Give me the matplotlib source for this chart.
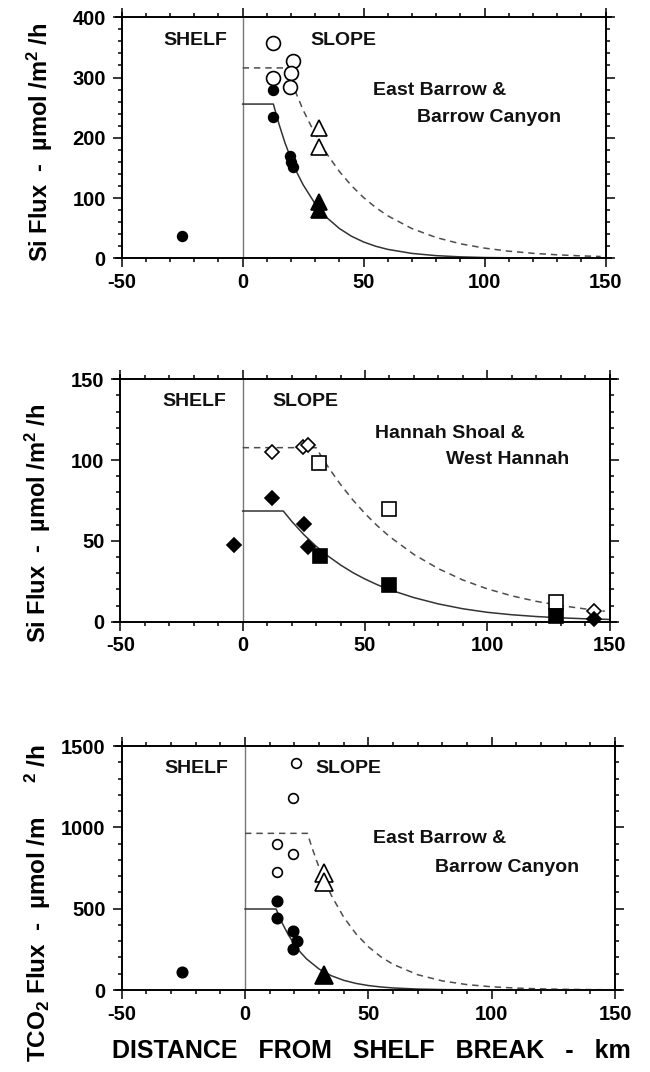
import matplotlib
matplotlib.use('Agg')
import matplotlib.pyplot as plt
from matplotlib.ticker import MultipleLocator

plt.rcParams['font.family'] = ['Liberation Sans', 'DejaVu Sans']
plt.rcParams['font.weight'] = 'bold'
plt.rcParams['axes.unicode_minus'] = False
plt.rcParams['mathtext.fontset'] = 'custom'
plt.rcParams['mathtext.rm'] = 'Liberation Sans:bold'
plt.rcParams['mathtext.it'] = 'Liberation Sans:bold'
plt.rcParams['mathtext.bf'] = 'Liberation Sans:bold'
plt.rcParams['mathtext.default'] = 'rm'

# ---------------- Panel 1: Si flux, East Barrow & Barrow Canyon ----------------
p1_fcirc_x = [-25, 12.7, 12.7, 19.6, 19.8, 20.7]
p1_fcirc_y = [37, 279, 235, 170, 160, 152]
p1_ocirc_x = [12.4, 12.7, 20.7, 20.0, 19.6]
p1_ocirc_y = [357, 300, 327, 308, 285]
p1_otri_x = [31.7, 31.7]
p1_otri_y = [216, 185]
p1_ftri_x = [31.7, 31.7]
p1_ftri_y = [94, 80]
p1_solid_x = [0, 12.7, 15, 17.5, 20, 22.5, 25, 30, 35, 40, 45, 50, 55, 60, 70, 80, 90, 100, 120, 150]
p1_solid_y = [256, 256, 223, 191.7, 165, 141.8, 122, 90.3, 66.8, 49.4, 36.6, 27.1, 20.0, 14.8, 8.1, 4.4, 2.4, 1.3, 0.4, 0.1]
p1_dash_x = [0, 18, 20, 25, 30, 35, 40, 45, 50, 55, 60, 70, 80, 90, 100, 110, 120, 130, 140, 148]
p1_dash_y = [316, 316, 294.2, 246.1, 205.8, 172.2, 144.0, 120.5, 100.8, 84.3, 70.5, 49.3, 34.5, 24.1, 16.9, 11.8, 8.3, 5.8, 4.0, 3.0]

# ---------------- Panel 2: Si flux, Hannah Shoal & West Hannah ----------------
p2_fdia_x = [-3.5, 12.1, 25.1, 26.8, 143.6]
p2_fdia_y = [47.5, 76.5, 60.6, 46.5, 1.5]
p2_fsq_x = [31.5, 59.9, 127.9]
p2_fsq_y = [40.5, 23.0, 3.5]
p2_odia_x = [12.1, 24.8, 26.8, 143.6]
p2_odia_y = [104.8, 108.3, 109.6, 6.8]
p2_osq_x = [31.3, 59.9, 127.9]
p2_osq_y = [98.2, 69.8, 12.0]
p2_solid_x = [0, 16.6, 20, 25, 30, 35, 40, 45, 50, 55, 60, 70, 80, 90, 100, 110, 120, 130, 140, 150]
p2_solid_y = [68.5, 68.5, 62.2, 53.9, 46.7, 40.5, 35.1, 30.4, 26.4, 22.9, 19.8, 14.9, 11.0, 8.0, 5.8, 4.3, 3.2, 2.4, 1.8, 1.4]
p2_dash_x = [0, 30, 32, 35, 40, 45, 50, 55, 60, 70, 80, 90, 100, 110, 120, 130, 140, 148]
p2_dash_y = [107.7, 107.7, 102.7, 95.6, 84.9, 75.4, 66.9, 59.4, 52.7, 41.6, 32.8, 25.8, 20.3, 16.0, 12.6, 10.0, 7.9, 6.5]

# ---------------- Panel 3: TCO2 flux, East Barrow & Barrow Canyon ----------------
p3_fcirc_x = [-25.5, 13.1, 13.1, 19.6, 21.0, 19.3]
p3_fcirc_y = [111, 545, 441, 364, 302, 252]
p3_ocirc_x = [20.7, 19.6, 13.1, 19.6, 13.1]
p3_ocirc_y = [1393, 1180, 895, 834, 725]
p3_otri_x = [32, 32]
p3_otri_y = [720, 662]
p3_ftri_x = [32]
p3_ftri_y = [95]
p3_solid_x = [0, 12.6, 15, 17.5, 20, 22.5, 25, 30, 35, 40, 45, 50, 55, 60, 70, 80, 90, 100, 150]
p3_solid_y = [498, 498, 413.4, 340.6, 280.6, 231.2, 190.4, 129.2, 87.7, 59.5, 40.4, 27.4, 18.6, 12.6, 5.8, 2.7, 1.2, 0.6, 0]
p3_dash_x = [0, 25.3, 27, 30, 35, 40, 45, 50, 55, 60, 70, 80, 90, 100, 110, 120, 130, 140, 148]
p3_dash_y = [963, 963, 881.4, 753.9, 581.1, 447.8, 345.1, 266.0, 205.0, 158.0, 93.9, 55.8, 33.1, 19.7, 11.7, 6.9, 4.1, 2.4, 1.6]

x_ticks = [-50, 0, 50, 100, 150]

W, H = 650, 1072
fig = plt.figure(figsize=(W / 100, H / 100), dpi=100)


def make_axes(xl, xr, ytop, ybot):
    return fig.add_axes([xl / W, 1 - ybot / H, (xr - xl) / W, (ybot - ytop) / H])


ax1 = make_axes(121.7, 605.5, 17.3, 258.3)
ax2 = make_axes(120.3, 609.7, 379.3, 621.7)
ax3 = make_axes(121.7, 615.0, 746.0, 990.0)

SOLID = dict(color='#333333', lw=1.1, zorder=2)
DASH = dict(color='#4d4d4d', lw=1.1, linestyle=(0, (4.2, 3.2)), zorder=2)
TXT = dict(fontsize=14, fontweight='bold', color='#111111')


def style(ax, ymax, ymaj, ymin):
    ax.set_xlim(-50, 150)
    ax.set_ylim(0, ymax)
    ax.set_xticks(x_ticks)
    ax.xaxis.set_minor_locator(MultipleLocator(10))
    ax.yaxis.set_major_locator(MultipleLocator(ymaj))
    ax.yaxis.set_minor_locator(MultipleLocator(ymin))
    ax.tick_params(which='both', direction='out', top=True, right=True, width=1.1, color='black')
    ax.tick_params(which='major', length=6.5, pad=4, labelsize=14.5)
    ax.tick_params(which='minor', length=3.2)
    ax.tick_params(axis='y', which='major', pad=5)
    for lab in ax.get_xticklabels() + ax.get_yticklabels():
        lab.set_fontweight('bold')
    for sp in ax.spines.values():
        sp.set_linewidth(1.2)
    # slight crossing of the frame lines, as in the original
    ext = dict(transform=ax.transAxes, clip_on=False, color='black', lw=1.2, solid_capstyle='butt')
    ax.plot([-0.014, 1.014], [0, 0], **ext)
    ax.plot([-0.014, 1.014], [1, 1], **ext)
    ax.plot([0, 0], [0.0, 1.02], **ext)
    ax.plot([1, 1], [0.0, 1.02], **ext)
    ax.axvline(0, color='#777777', lw=1.0, zorder=1)


def mk(ax, x, y, marker, ms, filled, z=4):
    ax.plot(x, y, linestyle='none', marker=marker, ms=ms,
            mfc='black' if filled else 'white', mec='black', mew=1.2,
            clip_on=False, zorder=z)


# Panel 1
style(ax1, 400, 100, 20)
ax1.plot(p1_solid_x, p1_solid_y, **SOLID)
ax1.plot(p1_dash_x, p1_dash_y, **DASH)
mk(ax1, p1_ocirc_x, p1_ocirc_y, 'o', 10, False)
mk(ax1, p1_fcirc_x, p1_fcirc_y, 'o', 7, True)
mk(ax1, p1_otri_x, p1_otri_y, '^', 12, False)
mk(ax1, p1_ftri_x, p1_ftri_y, '^', 12, True)
ax1.text(-19.7, 361, 'SHELF', ha='center', va='center', **TXT)
ax1.text(41.6, 361, 'SLOPE', ha='center', va='center', **TXT)
ax1.text(54, 279, 'East Barrow &', ha='left', va='center', **TXT)
ax1.text(72, 234, 'Barrow Canyon', ha='left', va='center', **TXT)

# Panel 2
style(ax2, 150, 50, 10)
ax2.plot(p2_solid_x, p2_solid_y, **SOLID)
ax2.plot(p2_dash_x, p2_dash_y, **DASH)
mk(ax2, p2_odia_x, p2_odia_y, 'D', 7.6, False)
mk(ax2, p2_osq_x, p2_osq_y, 's', 10, False)
mk(ax2, p2_fdia_x, p2_fdia_y, 'D', 7.6, True, z=5)
mk(ax2, p2_fsq_x, p2_fsq_y, 's', 10, True, z=5)
ax2.text(-19.7, 136, 'SHELF', ha='center', va='center', **TXT)
ax2.text(25.8, 136, 'SLOPE', ha='center', va='center', **TXT)
ax2.text(54, 116.7, 'Hannah Shoal &', ha='left', va='center', **TXT)
ax2.text(83, 100.2, 'West Hannah', ha='left', va='center', **TXT)

# Panel 3
style(ax3, 1500, 500, 100)
ax3.plot(p3_solid_x, p3_solid_y, **SOLID)
ax3.plot(p3_dash_x, p3_dash_y, **DASH)
mk(ax3, p3_ocirc_x, p3_ocirc_y, 'o', 7, False)
mk(ax3, p3_fcirc_x, p3_fcirc_y, 'o', 7.5, True)
mk(ax3, p3_otri_x, p3_otri_y, '^', 12.5, False)
mk(ax3, p3_ftri_x, p3_ftri_y, '^', 12.5, True)
ax3.text(-19.8, 1360, 'SHELF', ha='center', va='center', **TXT)
ax3.text(41.9, 1363, 'SLOPE', ha='center', va='center', **TXT)
ax3.text(52, 932, 'East Barrow &', ha='left', va='center', **TXT)
ax3.text(77, 752, 'Barrow Canyon', ha='left', va='center', **TXT)

# Axis titles
YL = dict(rotation=90, ha='center', va='center', fontsize=17, fontweight='bold')
fig.text(40 / W, 1 - 142 / H, 'Si Flux  -  \u00b5mol /m$^{2}$ /h', **YL)
fig.text(38 / W, 1 - 523 / H, 'Si Flux  -  \u00b5mol /m$^{2}$ /h', **YL)
fig.text(38 / W, 1 - 903 / H, 'TCO$_{2}$ Flux  -  \u00b5mol /m     $^{2}$ /h',
         rotation=90, ha='center', va='center', fontsize=17.5, fontweight='bold')
fig.text(371 / W, 1 - 1051 / H, 'DISTANCE   FROM   SHELF   BREAK   -   km',
         ha='center', va='center', fontsize=18, fontweight='bold')

fig.savefig('out.png', dpi=100)
